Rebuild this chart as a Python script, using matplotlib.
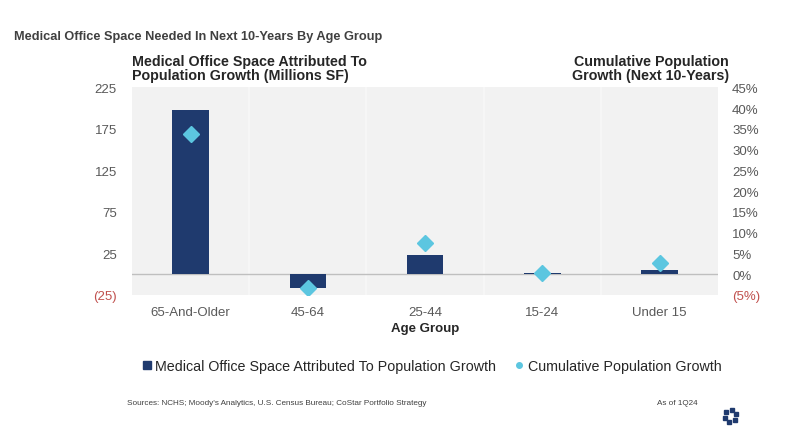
import matplotlib.pyplot as plt
import numpy as np
from matplotlib.lines import Line2D
from matplotlib.ticker import FixedLocator

# values
age_groups = ["65-And-Older", "45-64", "25-44", "15-24", "Under 15"]
office_space_msf = [197, -17, 23, 1, 5]          # millions SF
pop_growth_pct = [33.7, -3.4, 7.5, 0.3, 2.7]     # cumulative %, next 10 years

left_ticks = [-25, 25, 75, 125, 175, 225]
right_ticks = [-5, 0, 5, 10, 15, 20, 25, 30, 35, 40, 45]

NAVY = "#1f3a6e"
CYAN = "#5cc6e0"
GRAY_TXT = "#595959"
RED_TXT = "#c0504d"

plt.rcParams["font.family"] = ["Liberation Sans", "DejaVu Sans"]

fig = plt.figure(figsize=(7.88, 4.39), dpi=100)
ax = fig.add_axes([0.1675, 0.326, 0.744, 0.473])
ax.set_facecolor("#f2f2f2")
for s in ax.spines.values():
    s.set_visible(False)

x = np.arange(len(age_groups))
ax.bar(x, office_space_msf, width=0.31, color=NAVY, zorder=2,
       label="Medical Office Space Attributed To Population Growth")
ax.axhline(0, color="#bfbfbf", lw=1, zorder=1)
ax.set_xlim(-0.5, len(age_groups) - 0.5)
ax.set_ylim(-25, 225)
ax.yaxis.set_major_locator(FixedLocator(left_ticks))
ax.set_yticklabels([f"({abs(v)})" if v < 0 else str(v) for v in left_ticks])
for lbl, v in zip(ax.get_yticklabels(), left_ticks):
    lbl.set_color(RED_TXT if v < 0 else GRAY_TXT)
ax.tick_params(axis="y", length=0, labelsize=9.5, pad=11)
ax.set_xticks(x)
ax.set_xticklabels(age_groups)
ax.tick_params(axis="x", length=0, labelsize=9.5, labelcolor=GRAY_TXT, pad=8)
ax.set_xlabel("Age Group", fontsize=9.5, fontweight="bold", color="#262626", labelpad=3)

# faint vertical separators between categories
for b in x[1:] - 0.5:
    ax.axvline(b, color="#f8f8f8", lw=1.2, zorder=0.5)

ax2 = ax.twinx()
for s in ax2.spines.values():
    s.set_visible(False)
ax2.plot(x, pop_growth_pct, "D", color=CYAN, markersize=8, zorder=3,
         label="Cumulative Population Growth")
ax2.set_ylim(-5, 45)
ax2.yaxis.set_major_locator(FixedLocator(right_ticks))
ax2.set_yticklabels([f"({abs(v)}%)" if v < 0 else f"{v}%" for v in right_ticks])
for lbl, v in zip(ax2.get_yticklabels(), right_ticks):
    lbl.set_color(RED_TXT if v < 0 else GRAY_TXT)
ax2.tick_params(axis="y", length=0, labelsize=9.5, pad=10)

# titles
fig.text(0.018, 0.915, "Medical Office Space Needed In Next 10-Years By Age Group",
         fontsize=9.2, color="#404040", fontweight="bold", va="center")
fig.text(0.168, 0.843, "Medical Office Space Attributed To\nPopulation Growth (Millions SF)",
         fontsize=10.3, fontweight="bold", color="#262626", va="center", linespacing=1.0)
fig.text(0.925, 0.843, "Cumulative Population\nGrowth (Next 10-Years)",
         fontsize=10.3, fontweight="bold", color="#262626", va="center", ha="right",
         linespacing=1.0)

# legend
labels = [ax.get_legend_handles_labels()[1][0], ax2.get_legend_handles_labels()[1][0]]
handles = [Line2D([], [], marker="s", ls="", color=NAVY, markersize=6),
           Line2D([], [], marker="o", ls="", color=CYAN, markersize=4)]
fig.legend(handles, labels, loc="center", bbox_to_anchor=(0.548, 0.164), ncol=2,
           frameon=False, fontsize=10.3, handlelength=0.6, handletextpad=0.3,
           columnspacing=1.3, labelcolor="#262626")

fig.text(0.161, 0.082, "Sources: NCHS; Moody's Analytics, U.S. Census Bureau; CoStar Portfolio Strategy",
         fontsize=5.9, color="#404040", va="center")
fig.text(0.885, 0.082, "As of 1Q24", fontsize=5.9, color="#404040", va="center", ha="right")

# small ring logo
ang = np.linspace(0, 2 * np.pi, 6, endpoint=False) + 0.3
lx = 0.927 + 6 * np.cos(ang) / 788
ly = 0.05 + 6 * np.sin(ang) / 439
fig.add_artist(Line2D(lx, ly, ls="", marker="s", markersize=3.5, color=NAVY,
                      transform=fig.transFigure))

fig.savefig("out.png", dpi=100)
